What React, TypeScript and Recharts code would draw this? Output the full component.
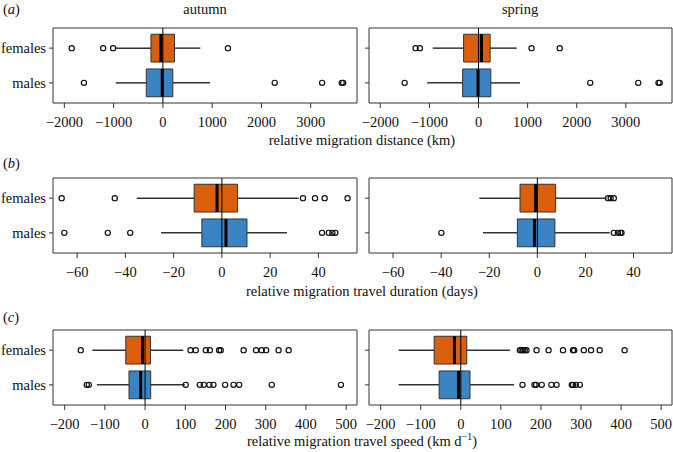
import React from 'react';
import { ComposedChart, XAxis, YAxis, ReferenceArea, ReferenceLine, Scatter } from 'recharts';

// ---- categories ----
const GROUPS = ['females', 'males'];
const GROUP_POS = [2, 1];
const GROUP_COLORS = ['#DB5E0D', '#3B84C4'];

// ---- tick labels / axis ranges ----
const DIST_TICKS = [-2000, -1000, 0, 1000, 2000, 3000];
const DUR_TICKS = [-60, -40, -20, 0, 20, 40];
const SPEED_TICKS = [-200, -100, 0, 100, 200, 300, 400, 500];
const DIST_RANGE = [-2230, 3940];
const DUR_RANGE = [-70, 56];
const SPEED_RANGE = [-229, 527];
const ROW_RANGE = [0.42, 2.58];

// ---- box stats: [lower whisker, Q1, median, Q3, upper whisker] ----
const distAutumnFemales = [-950, -242, -40, 236, 760];
const distAutumnMales = [-955, -337, -13, 202, 957];
const distAutumnFemalesOut = [-1850, -1212, -1010, 1320];
const distAutumnMalesOut = [-1602, 2270, 3232, 3630, 3660];

const distSpringFemales = [-931, -304, 60, 237, 777];
const distSpringMales = [-1045, -324, -10, 251, 844];
const distSpringFemalesOut = [-1281, -1194, 1080, 1654];
const distSpringMalesOut = [-1504, 2275, 3253, 3665, 3690];

const durAutumnFemales = [-35.3, -11.5, -2, 6.5, 31.8];
const durAutumnMales = [-25.2, -8.3, 1.7, 10.4, 27];
const durAutumnFemalesOut = [-66.4, -44.4, 33.6, 38.6, 42.6, 52.1];
const durAutumnMalesOut = [-65.3, -47.3, -38, 41.5, 44.3, 45.8, 47];

const durSpringFemales = [-24.1, -7.2, -0.7, 7.6, 28.7];
const durSpringMales = [-22.6, -8.3, -1.2, 7.3, 30.1];
const durSpringFemalesOut = [29.4, 30.5, 31.8];
const durSpringMalesOut = [-39.9, 31.8, 33.5, 34.5, 35];

const speedAutumnFemales = [-131, -48, -6.5, 13.4, 95];
const speedAutumnMales = [-120, -40, -11, 14, 99];
const speedAutumnFemalesOut = [-160, 113, 126, 151, 161, 184, 188, 245, 276, 290, 301, 332, 357];
const speedAutumnMalesOut = [-145, -140, 101, 136, 146, 160, 170, 199, 220, 234, 315, 487];

const speedSpringFemales = [-155, -66.4, -15.8, 14.9, 122.6];
const speedSpringMales = [-155, -54, -5.8, 23, 133];
const speedSpringFemalesOut = [147.5, 151.6, 155.7, 159.8, 164, 189, 219, 255, 280, 283, 307, 325, 346.5, 408.7];
const speedSpringMalesOut = [154, 184, 188, 202, 226, 239, 277, 280, 287, 297];

const FONT = "'Liberation Serif', 'Times New Roman', serif";
const FS = 14.5;
const PLOT_H = 75;
const BOX_HALF = 0.4;

const fmtMinus = (v: number) => String(v).replace('-', '\u2212');

const Circle = (p: any) => (
  <circle cx={p.cx} cy={p.cy} r={2.6} fill="none" stroke="#111" strokeWidth={1.2} />
);

function BoxPanel(props: any) {
  const { left, top, right, stats, outs, range, ticks, labels } = props;
  const isLeft = labels;
  const width = right ? 311 : 362;
  const mLeft = right ? 2 : 8;
  const mRight = right ? 1 : 5;
  const yw = right ? 5 : 45;
  const els: any[] = [];
  stats.forEach((s: number[], i: number) => {
    const pos = GROUP_POS[i];
    els.push(
      <ReferenceLine key={'wl' + i} segment={[{ x: s[0], y: pos }, { x: s[1], y: pos }]} stroke="#333" strokeWidth={1.5} />,
      <ReferenceLine key={'wh' + i} segment={[{ x: s[3], y: pos }, { x: s[4], y: pos }]} stroke="#333" strokeWidth={1.5} />,
      <ReferenceArea key={'b' + i} x1={s[1]} x2={s[3]} y1={pos - BOX_HALF} y2={pos + BOX_HALF} fill={GROUP_COLORS[i]} fillOpacity={1} stroke="#333" strokeWidth={1} />,
      <ReferenceLine key={'m' + i} segment={[{ x: s[2], y: pos - BOX_HALF }, { x: s[2], y: pos + BOX_HALF }]} stroke="#000" strokeWidth={3} />,
    );
  });
  outs.forEach((o: number[], i: number) => {
    els.push(
      <Scatter key={'o' + i} data={o.map((v) => ({ x: v, y: GROUP_POS[i] }))} shape={Circle} isAnimationActive={false} />,
    );
  });
  return (
    <div style={{ position: 'absolute', left, top: top - 5 }}>
      <ComposedChart width={width} height={5 + PLOT_H + 30} margin={{ top: 5, right: mRight, bottom: 0, left: mLeft }}>
        <XAxis
          type="number"
          dataKey="x"
          domain={range}
          ticks={ticks}
          allowDataOverflow
          interval={0}
          axisLine={false}
          tickLine={{ stroke: '#333' }}
          tickSize={5}
          tickMargin={9}
          height={30}
          tick={{ fontFamily: FONT, fontSize: FS, fill: '#111' }}
          tickFormatter={fmtMinus}
        />
        <YAxis
          type="number"
          dataKey="y"
          domain={ROW_RANGE}
          ticks={GROUP_POS}
          allowDataOverflow
          interval={0}
          axisLine={false}
          tickLine={{ stroke: '#333' }}
          tickSize={4}
          tickMargin={3}
          width={yw}
          tick={{ fontFamily: FONT, fontSize: FS, fill: '#111' }}
          tickFormatter={(v: number) => (isLeft ? GROUPS[GROUP_POS.indexOf(v)] : '')}
        />
        <ReferenceArea x1={range[0]} x2={range[1]} y1={ROW_RANGE[0]} y2={ROW_RANGE[1]} fill="none" stroke="#333" strokeWidth={1} ifOverflow="visible" />
        {els}
        <ReferenceLine x={0} stroke="#000" strokeWidth={1} />
      </ComposedChart>
    </div>
  );
}

export default function App() {
  const txt = { fontFamily: FONT, fontSize: FS, fill: '#111' } as any;
  return (
    <div style={{ position: 'absolute', left: 0, top: 0, width: 673, height: 452, background: '#fff', overflow: 'hidden' }}>
      <BoxPanel left={0} top={28} labels right={false} range={DIST_RANGE} ticks={DIST_TICKS}
        stats={[distAutumnFemales, distAutumnMales]} outs={[distAutumnFemalesOut, distAutumnMalesOut]} />
      <BoxPanel left={362} top={28} labels={false} right range={DIST_RANGE} ticks={DIST_TICKS}
        stats={[distSpringFemales, distSpringMales]} outs={[distSpringFemalesOut, distSpringMalesOut]} />
      <BoxPanel left={0} top={178} labels right={false} range={DUR_RANGE} ticks={DUR_TICKS}
        stats={[durAutumnFemales, durAutumnMales]} outs={[durAutumnFemalesOut, durAutumnMalesOut]} />
      <BoxPanel left={362} top={178} labels={false} right range={DUR_RANGE} ticks={DUR_TICKS}
        stats={[durSpringFemales, durSpringMales]} outs={[durSpringFemalesOut, durSpringMalesOut]} />
      <BoxPanel left={0} top={330} labels right={false} range={SPEED_RANGE} ticks={SPEED_TICKS}
        stats={[speedAutumnFemales, speedAutumnMales]} outs={[speedAutumnFemalesOut, speedAutumnMalesOut]} />
      <BoxPanel left={362} top={330} labels={false} right range={SPEED_RANGE} ticks={SPEED_TICKS}
        stats={[speedSpringFemales, speedSpringMales]} outs={[speedSpringFemalesOut, speedSpringMalesOut]} />
      <svg width={673} height={452} style={{ position: 'absolute', left: 0, top: 0, pointerEvents: 'none' }}>
        <text x={3} y={14} {...txt}>(<tspan fontStyle="italic">a</tspan>)</text>
        <text x={3} y={168} {...txt}>(<tspan fontStyle="italic">b</tspan>)</text>
        <text x={3} y={322} {...txt}>(<tspan fontStyle="italic">c</tspan>)</text>
        <text x={205} y={14} textAnchor="middle" {...txt}>autumn</text>
        <text x={520} y={14} textAnchor="middle" {...txt}>spring</text>
        <text x={362} y={145} textAnchor="middle" {...txt}>relative migration distance (km)</text>
        <text x={362} y={296} textAnchor="middle" {...txt}>relative migration travel duration (days)</text>
        <text x={362} y={446} textAnchor="middle" {...txt}>
          relative migration travel speed (km d<tspan fontSize={10} dy={-6}>{'\u22121'}</tspan><tspan dy={6}>)</tspan>
        </text>
      </svg>
    </div>
  );
}
